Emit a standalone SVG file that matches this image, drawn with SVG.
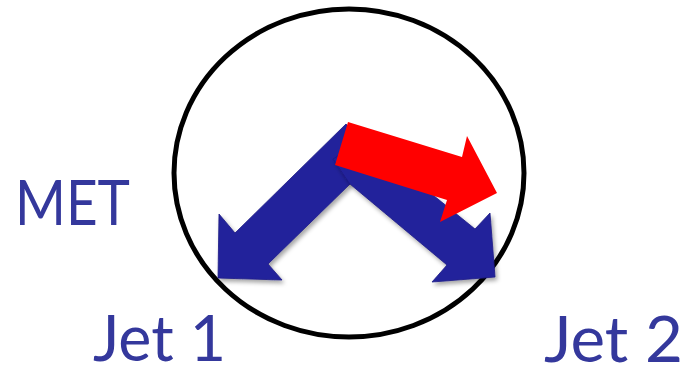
<svg xmlns="http://www.w3.org/2000/svg" width="695" height="368" viewBox="0 0 695 368">
  <defs>
    <filter id="shadow" x="-20%" y="-20%" width="140%" height="140%">
      <feDropShadow dx="2" dy="3" stdDeviation="2" flood-color="#000" flood-opacity="0.35"/>
    </filter>
  </defs>
  <style>
    .ring { fill: none; stroke: #000; stroke-width: 5; }
    .blue { fill: #24239b; stroke: #1c1b85; stroke-width: 0.8; stroke-linejoin: miter; filter: url(#shadow); }
    .red { fill: #ff0000; }
    .label { font-family: Lato, "Open Sans", "Liberation Sans", sans-serif; fill: #34389c; }
  </style>
  <rect width="695" height="368" fill="#fff"/>
  <g id="circle">
    <ellipse class="ring" cx="349" cy="173" rx="175" ry="164"/>
  </g>
  <g id="arrows">
    <g id="jet1-arrow">
      <polygon class="blue" points="346,124 378,156 350,184 268,264 282,280 218,278 219,214 235,233"/>
    </g>
    <g id="jet2-arrow">
      <polygon class="blue" points="333,159 365,140 475,229 490,213 495,277 432,282 447,265 350,184"/>
    </g>
    <g id="met-arrow">
      <polygon class="red" points="348,122 462,157 467,136 497,193 440,222 447,200 335,165"/>
    </g>
  </g>
  <g id="labels">
    <text id="met-label" class="label" x="15" y="225" font-size="61" textLength="115" lengthAdjust="spacingAndGlyphs">MET</text>
    <text id="jet1-label" class="label" x="93" y="361" font-size="63" textLength="133" lengthAdjust="spacingAndGlyphs">Jet 1</text>
    <text id="jet2-label" class="label" x="544" y="362" font-size="63" textLength="139" lengthAdjust="spacingAndGlyphs">Jet 2</text>
  </g>
</svg>
